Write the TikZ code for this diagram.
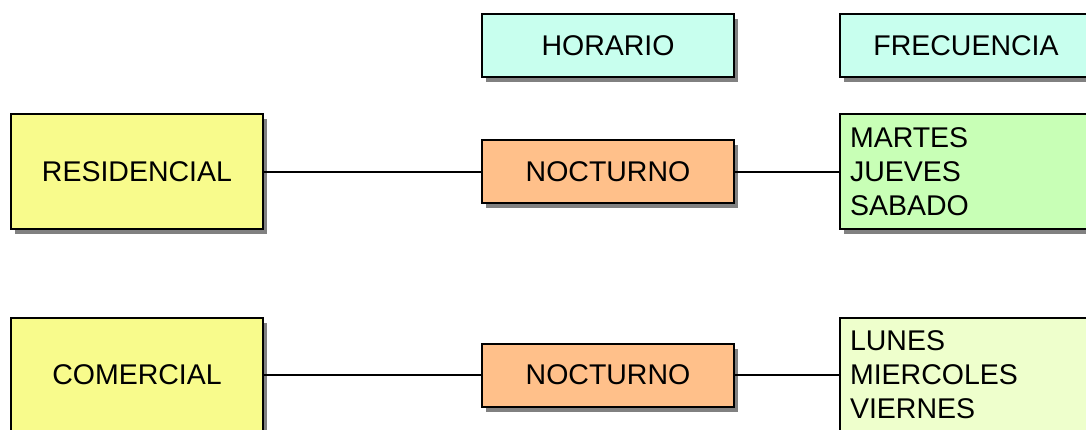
\documentclass[tikz,border=0pt]{standalone}
\usepackage{fontspec}
\setmainfont{Liberation Sans}
\usetikzlibrary{shadows}
\definecolor{cyanbox}{HTML}{C8FFEE}
\definecolor{yelbox}{HTML}{F8FB8C}
\definecolor{orabox}{HTML}{FFC08A}
\definecolor{grnbox}{HTML}{C8FFB6}
\definecolor{limbox}{HTML}{EEFFCC}
\begin{document}
\begin{tikzpicture}[x=1pt,y=-1pt,
  font=\fontsize{28.5}{34}\selectfont,
  box/.style={draw=black, line width=2pt, inner sep=0pt,
    drop shadow={shadow xshift=4pt, shadow yshift=-5pt, fill=black!55, opacity=0.9}},
  smallbox/.style={box, minimum width=252pt, minimum height=63pt},
  bigbox/.style={box, minimum width=252pt, minimum height=115pt},
  listbox/.style={bigbox, text width=232pt, align=left},
  link/.style={line width=2.2pt}]
\useasboundingbox (0,0) rectangle (1086,430);
\clip (0,0) rectangle (1086,430);
\node[smallbox, fill=cyanbox] (hor) at (608,45.5) {HORARIO};
\node[smallbox, fill=cyanbox] (fre) at (966,45.5) {FRECUENCIA};
\node[bigbox, fill=yelbox] (res) at (137,172) {RESIDENCIAL};
\node[smallbox, fill=orabox] (noc1) at (608,172) {NOCTURNO};
\node[listbox, fill=grnbox] (l1) at (966,172) {MARTES\\JUEVES\\SABADO};
\node[bigbox, fill=yelbox] (com) at (137,375) {COMERCIAL};
\node[smallbox, fill=orabox] (noc2) at (608,375) {NOCTURNO};
\node[listbox, fill=limbox] (l2) at (966,375) {LUNES\\MIERCOLES\\VIERNES};
\draw[link] (res.east) -- (noc1.west);
\draw[link] (noc1.east) -- (l1.west);
\draw[link] (com.east) -- (noc2.west);
\draw[link] (noc2.east) -- (l2.west);
\end{tikzpicture}
\end{document}
